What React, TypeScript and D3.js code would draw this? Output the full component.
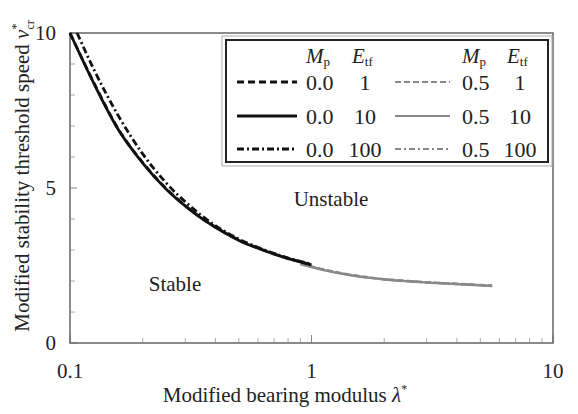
import React from "react";
import * as d3 from "d3";

// --- data ---
const lamBlack = [0.1, 0.126, 0.158, 0.2, 0.251, 0.316, 0.398, 0.501, 0.631, 0.794, 1.0];
const lamBlackDD = [0.107, 0.126, 0.158, 0.2, 0.251, 0.316, 0.398, 0.501, 0.631, 0.794, 1.0];
const v_00_1 = [10, 8.37, 6.92, 5.82, 4.97, 4.29, 3.75, 3.32, 3.0, 2.74, 2.53];
const v_00_10 = [10, 8.35, 6.9, 5.8, 4.95, 4.28, 3.74, 3.31, 2.99, 2.73, 2.52];
const v_00_100 = [10, 8.8, 7.35, 6.1, 5.15, 4.4, 3.8, 3.35, 3.02, 2.75, 2.54];

const lamGray = [0.9, 1.0, 1.26, 1.58, 2.0, 2.51, 3.16, 3.98, 5.0, 5.6];
const v_05_1 = [2.57, 2.47, 2.29, 2.16, 2.06, 2.0, 1.95, 1.91, 1.87, 1.85];
const v_05_10 = [2.55, 2.45, 2.27, 2.14, 2.05, 1.99, 1.94, 1.9, 1.86, 1.84];
const v_05_100 = [2.56, 2.46, 2.28, 2.15, 2.055, 1.995, 1.945, 1.905, 1.865, 1.845];

const xTicks = [0.1, 1, 10];
const xTickLabels = ["0.1", "1", "10"];
const yTicks = [0, 5, 10];
const yMinor = [1, 2, 3, 4, 6, 7, 8, 9];
const xMinor = [0.2, 0.3, 0.4, 0.5, 0.6, 0.7, 0.8, 0.9, 2, 3, 4, 5, 6, 7, 8, 9];

const series = [
  { lam: lamBlack, v: v_00_1, mp: "0.0", etf: "1", color: "#111", dash: "7,4", width: 2.8 },
  { lam: lamBlack, v: v_00_10, mp: "0.0", etf: "10", color: "#111", dash: "none", width: 2.8 },
  { lam: lamBlackDD, v: v_00_100, mp: "0.0", etf: "100", color: "#111", dash: "7,3,2,3", width: 2.8 },
  { lam: lamGray, v: v_05_1, mp: "0.5", etf: "1", color: "#888", dash: "6,3", width: 2.4 },
  { lam: lamGray, v: v_05_10, mp: "0.5", etf: "10", color: "#888", dash: "none", width: 2.4 },
  { lam: lamGray, v: v_05_100, mp: "0.5", etf: "100", color: "#888", dash: "6,3,2,3", width: 2.4 },
];

const W = 578;
const H = 414;
const L = 70, R = 553, T = 33, B = 343;
const FONT = "'Liberation Serif', 'Times New Roman', serif";

export default function App() {
  const x = d3.scaleLog().domain([0.1, 10]).range([L, R]);
  const y = d3.scaleLinear().domain([0, 10]).range([B, T]);

  const drawOrder = [3, 4, 5, 0, 1, 2];
  const paths = drawOrder.map((i) => {
    const s = series[i];
    const pts: [number, number][] = s.lam.map((l, k) => [l, s.v[k]]);
    const gen = d3
      .line<[number, number]>()
      .x((d) => x(d[0]))
      .y((d) => y(d[1]))
      .curve(d3.curveMonotoneX);
    return (
      <path
        key={i}
        d={gen(pts) || ""}
        fill="none"
        stroke={s.color}
        strokeWidth={s.width}
        strokeDasharray={s.dash}
      />
    );
  });

  // legend layout
  const rowY = [82, 116, 149];
  const colLine = [
    [237, 297],
    [395, 450],
  ];
  const colMp = [306, 462];
  const colEtf = [365, 520];

  return (
    <svg width={W} height={H} style={{ position: "absolute", left: 0, top: 0, background: "#fff" }} fontFamily={FONT}>
      <rect x={0} y={0} width={W} height={H} fill="#fff" />
      {/* minor ticks */}
      {yMinor.map((t) => (
        <line key={"ym" + t} x1={L} x2={L + 5} y1={y(t)} y2={y(t)} stroke="#aaa" strokeWidth={1} />
      ))}
      {yTicks.map((t) => (
        <line key={"yM" + t} x1={L} x2={L + 7} y1={y(t)} y2={y(t)} stroke="#888" strokeWidth={1} />
      ))}
      {xMinor.map((t) => (
        <line key={"xm" + t} x1={x(t)} x2={x(t)} y1={B} y2={B - 5} stroke="#aaa" strokeWidth={1} />
      ))}
      {xTicks.map((t) => (
        <line key={"xM" + t} x1={x(t)} x2={x(t)} y1={B} y2={B - 8} stroke="#888" strokeWidth={1} />
      ))}
      {/* frame */}
      <rect x={L} y={T} width={R - L} height={B - T} fill="none" stroke="#666" strokeWidth={1.5} />

      {/* curves */}
      {paths}

      {/* tick labels */}
      {yTicks.map((t) => (
        <text key={"yl" + t} x={L - 14} y={y(t)} dy="0.35em" textAnchor="end" fontSize={21} fill="#222">
          {t}
        </text>
      ))}
      {xTicks.map((t, i) => (
        <text key={"xl" + t} x={x(t)} y={378} textAnchor="middle" fontSize={21} fill="#222">
          {xTickLabels[i]}
        </text>
      ))}

      {/* axis titles */}
      <text x={285} y={402} textAnchor="middle" fontSize={21} fill="#222">
        Modified bearing modulus{"  "}
        <tspan fontStyle="italic">λ</tspan>
        <tspan fontSize={12} dy={-9}>*</tspan>
      </text>
      <text
        transform={`translate(29, 176) rotate(-90)`}
        textAnchor="middle"
        fontSize={21}
        fill="#222"
      >
        Modified stability threshold speed{"  "}
        <tspan fontStyle="italic">v</tspan>
        <tspan fontSize={12} dy={-9}>*</tspan>
        <tspan fontSize={12} dy={14} dx={-6}>cr</tspan>
      </text>

      {/* region labels */}
      <text x={331} y={206} textAnchor="middle" fontSize={21} fill="#222">Unstable</text>
      <text x={175} y={291} textAnchor="middle" fontSize={21} fill="#222">Stable</text>

      {/* legend */}
      <rect x={222} y={36} width={330} height={130} fill="#fff" stroke="#aaa" strokeWidth={1} />
      <rect x={226} y={40} width={322} height={122} fill="#fff" stroke="#222" strokeWidth={2} />
      {[0, 1].map((c) => (
        <g key={"hdr" + c} fontSize={21} fill="#222">
          <text x={colMp[c]} y={63}>
            <tspan fontStyle="italic">M</tspan>
            <tspan fontSize={13} dy={3}>p</tspan>
          </text>
          <text x={colEtf[c] - 13} y={63}>
            <tspan fontStyle="italic">E</tspan>
            <tspan fontSize={13} dy={3}>tf</tspan>
          </text>
        </g>
      ))}
      {series.map((s, i) => {
        const c = i < 3 ? 0 : 1;
        const r = i % 3;
        return (
          <g key={"lg" + i}>
            <line
              x1={colLine[c][0]}
              x2={colLine[c][1]}
              y1={rowY[r]}
              y2={rowY[r]}
              stroke={s.color}
              strokeWidth={c === 0 ? 3 : 2.2}
              strokeDasharray={s.dash}
            />
            <text x={colMp[c]} y={rowY[r]} dy="0.35em" fontSize={22} fill="#222">
              {s.mp}
            </text>
            <text x={colEtf[c]} y={rowY[r]} dy="0.35em" fontSize={22} textAnchor="middle" fill="#222">
              {s.etf}
            </text>
          </g>
        );
      })}
    </svg>
  );
}
